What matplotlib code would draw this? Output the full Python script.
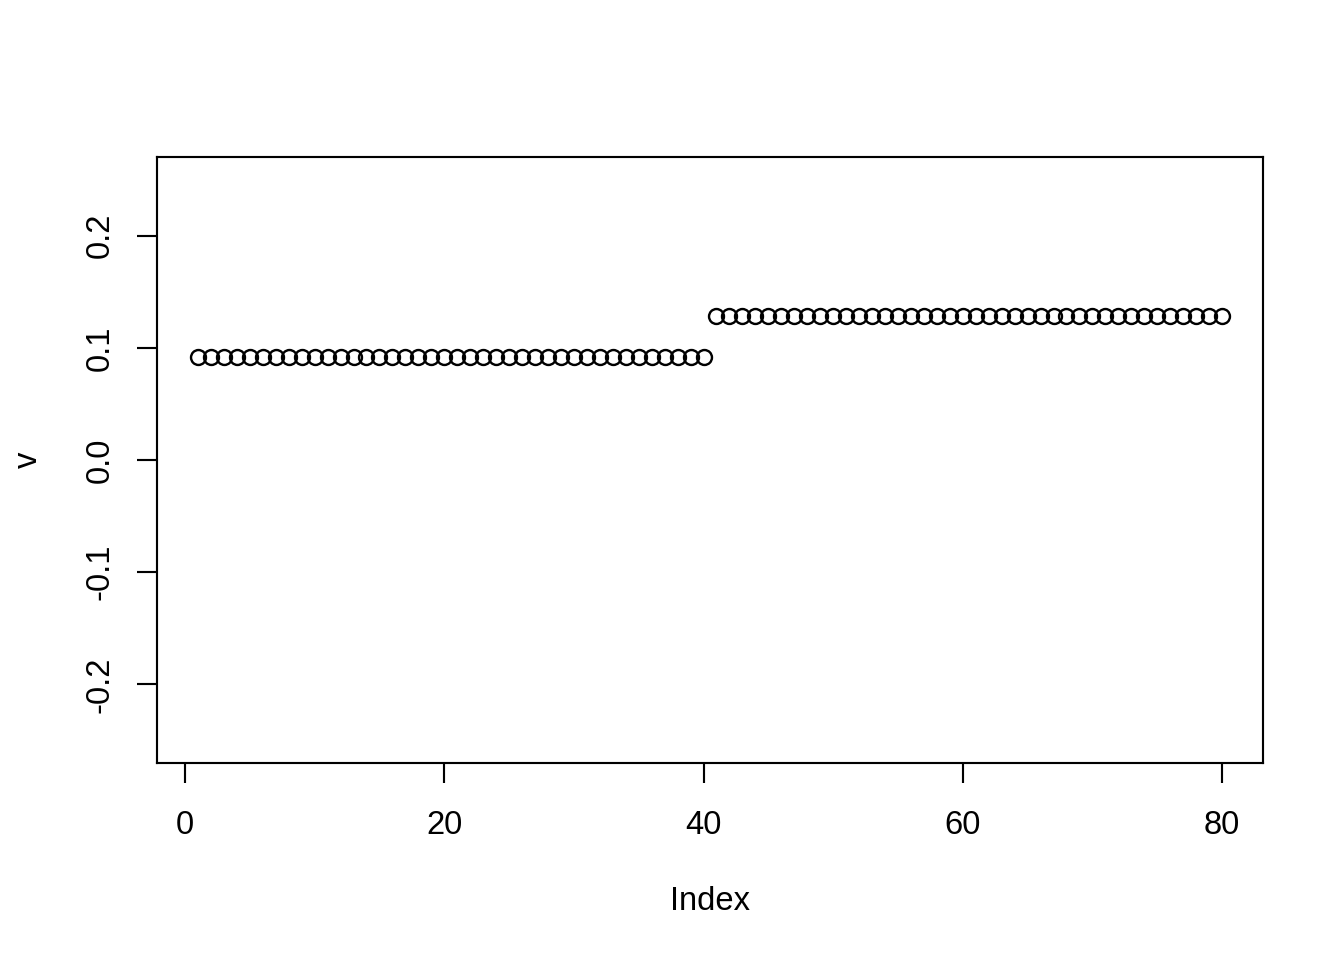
import numpy as np
import matplotlib
matplotlib.use("Agg")
import matplotlib.pyplot as plt

plt.rcParams['font.family'] = ['Liberation Sans', 'DejaVu Sans']

# values: 40 points near 0.092, then 40 near 0.128
index = np.arange(1, 81)
v = [0.092] * 40 + [0.128] * 40

x_ticks = [0, 20, 40, 60, 80]
y_ticks = [-0.2, -0.1, 0.0, 0.1, 0.2]
y_labels = ['-0.2', '-0.1', '0.0', '0.1', '0.2']

fig = plt.figure(figsize=(7, 5), dpi=192)
ax = fig.add_axes([157 / 1344, 1 - 763 / 960, (1263 - 157) / 1344, (763 - 157) / 960])

ax.plot(index, v, 'o', markerfacecolor='none', markeredgecolor='black',
        markersize=5.6, markeredgewidth=0.9)

ax.set_xlim(-2.16, 83.16)
ax.set_ylim(-0.27, 0.27)
ax.set_xticks(x_ticks, labels=[str(t) for t in x_ticks])
ax.set_yticks(y_ticks, labels=y_labels)
for lbl in ax.get_yticklabels():
    lbl.set_rotation(90)
    lbl.set_va('center')

ax.tick_params(axis='both', direction='out', length=7.5, width=0.8,
               labelsize=12.3, color='black')
ax.tick_params(axis='x', pad=10)
ax.tick_params(axis='y', pad=8)
for s in ax.spines.values():
    s.set_linewidth(0.8)

fig.text(710 / 1344, 1 - 901 / 960, 'Index', fontsize=12.3, ha='center', va='center')
fig.text(28 / 1344, 1 - 460 / 960, 'v', fontsize=12.3, ha='center', va='center',
         rotation=90)

plt.savefig('out.png', dpi=192)
